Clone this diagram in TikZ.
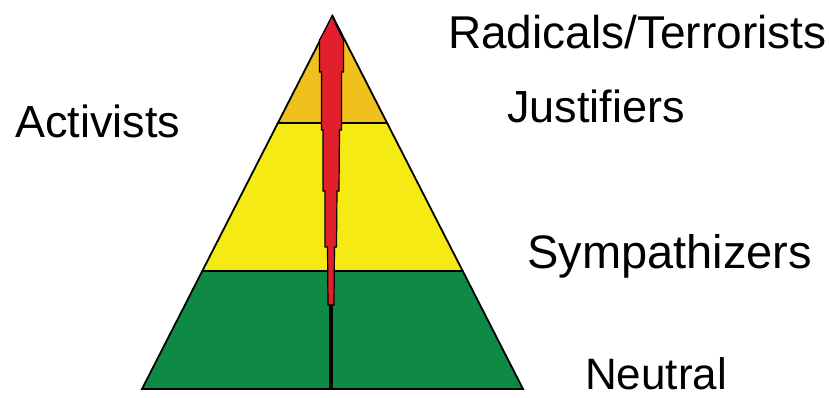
\documentclass[tikz,border=0pt]{standalone}
\usepackage{fontspec}
\setmainfont{Liberation Sans}
\definecolor{tierorange}{RGB}{240,192,28}
\definecolor{tieryellow}{RGB}{245,234,20}
\definecolor{tiergreen}{RGB}{14,138,70}
\definecolor{spikered}{RGB}{226,32,44}
\begin{document}
\begin{tikzpicture}[x=1pt,y=-1pt,
  lbl/.style={anchor=base west,inner sep=0pt,font=\fontsize{45}{54}\selectfont},
  layer/.style={draw=black,line width=1.8pt,line join=miter},
  spike/.style={fill=spikered,draw=black,line width=1.2pt,line join=miter}]
\useasboundingbox (0,0) rectangle (829,398);
% pyramid corners and tier boundaries
\coordinate (apex) at (332.5,16);
\coordinate (bl) at (142,389);
\coordinate (br) at (523,389);
\coordinate (t1l) at (277.9,123);
\coordinate (t1r) at (387.1,123);
\coordinate (t2l) at (202.3,271);
\coordinate (t2r) at (462.7,271);
% tiers
\path[layer,fill=tierorange] (apex) -- (t1r) -- (t1l) -- cycle;
\path[layer,fill=tieryellow] (t1l) -- (t1r) -- (t2r) -- (t2l) -- cycle;
\path[layer,fill=tiergreen] (t2l) -- (t2r) -- (br) -- (bl) -- cycle;
% stem
\coordinate (stemtop) at (331,305);
\coordinate (stembot) at (331,389);
\draw[black,line width=3.2pt] (stemtop) -- (stembot);
% red spike
\path[spike] (332,16) -- (325,30) -- (319.5,40) -- (319.5,72) -- (321.5,72)
  -- (321.5,130) -- (323,130) -- (323,191) -- (325,191) -- (325,247)
  -- (327.5,247) -- (328,305) -- (334,305) -- (334.5,247) -- (336.5,247)
  -- (337,191) -- (339,191) -- (339.5,130) -- (341.5,130) -- (341.5,72)
  -- (343.5,72) -- (343.5,40) -- (338.5,30) -- cycle;
% labels
\node[lbl,font=\fontsize{46}{54}\selectfont] (radicals) at (448,49) {Radicals/Terrorists};
\node[lbl] (activists) at (15,138) {Activists};
\node[lbl] (justifiers) at (507,123) {Justifiers};
\node[lbl,font=\fontsize{47}{54}\selectfont] (sympathizers) at (527,268) {Sympathizers};
\node[lbl,font=\fontsize{44}{54}\selectfont] (neutral) at (585,389) {Neutral};
\end{tikzpicture}
\end{document}
